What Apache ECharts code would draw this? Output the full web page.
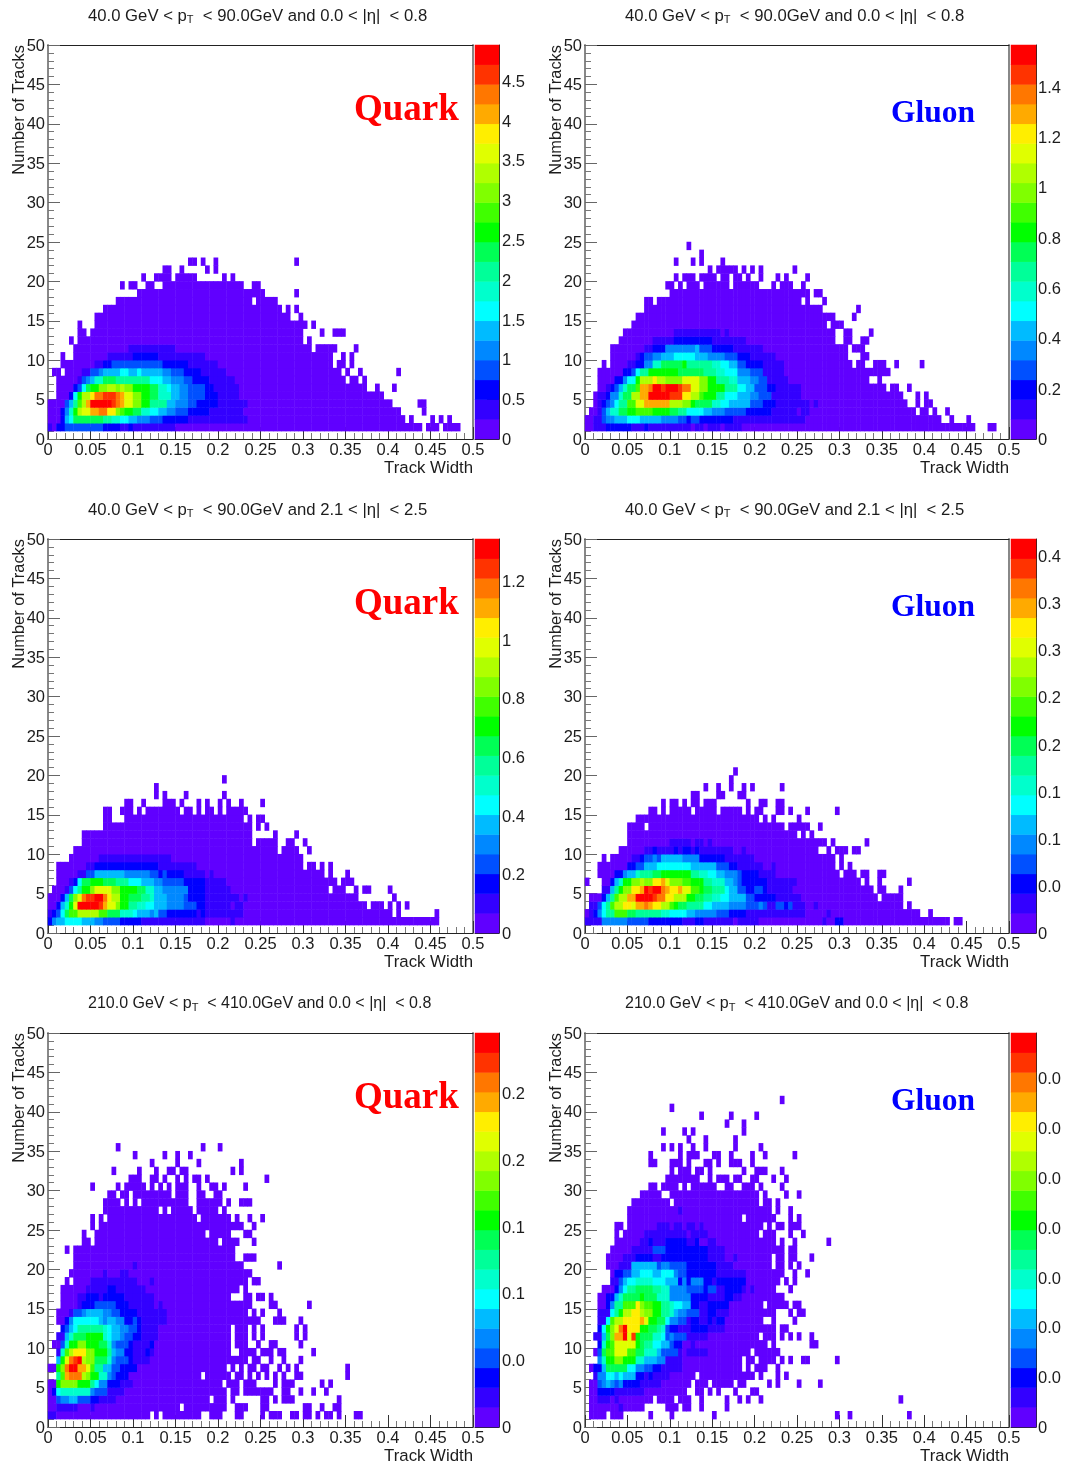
<!DOCTYPE html>
<html><head><meta charset="utf-8"><style>html,body{margin:0;padding:0;background:#fff}#c{width:1070px;height:1467px;filter:blur(.4px)}</style>
<script src="https://cdn.jsdelivr.net/npm/echarts@6/dist/echarts.min.js"></script></head><body><div id="c"></div>
<script>
// Each row list is indexed by tracks bin; tokens "start:level" run until the next token, "." = empty bin.
const quarkLowCentral=["",
"0:1 1:0 2:2 4:3 13:2 17:1 19:2 20:1 30:0 88:. 89:0 92:. 93:0 97:.",
"0:0 3:2 4:5 5:6 6:9 13:8 15:7 17:6 19:5 21:4 24:3 27:2 33:1 47:0 84:. 85:0 86:. 90:0 91:. 92:0 93:. 94:0 95:.",
"0:0 3:2 4:4 5:7 6:10 7:13 8:14 10:16 12:17 14:15 16:12 17:11 18:10 20:9 22:7 24:6 26:5 28:4 30:3 33:2 38:1 46:0 83:. 88:0 89:.",
"0:0 4:3 5:5 6:8 7:11 8:13 9:16 10:19 15:18 16:17 17:16 18:14 20:12 22:10 24:8 28:5 30:4 33:3 35:2 40:1 47:0 81:. 87:0 89:.",
"2:0 5:2 6:6 7:10 8:13 10:15 11:17 13:18 16:17 17:16 18:14 20:12 22:10 24:9 26:7 29:5 31:4 33:3 37:2 40:1 45:0 79:.",
"2:0 6:2 7:3 8:6 9:9 10:10 12:12 14:13 16:12 17:13 18:12 20:10 24:9 26:7 28:6 29:5 31:4 33:3 37:2 39:1 45:0 75:. 77:0 78:. 81:0 82:.",
"2:0 7:1 8:3 9:4 10:5 11:7 13:9 16:8 24:6 27:5 29:4 32:3 34:2 38:1 44:0 70:. 71:0 73:. 74:0 75:.",
"1:0 3:. 4:0 8:1 10:3 12:4 13:5 17:6 19:5 21:6 22:5 27:4 29:3 32:2 36:1 42:0 69:. 70:0 71:. 73:0 74:. 82:0 83:.",
"3:0 11:1 13:2 15:3 27:2 33:1 40:0 67:. 68:0 70:. 71:0 72:.",
"3:0 4:. 6:0 14:1 20:2 26:1 37:0 67:. 69:0 70:. 71:0 72:.",
"6:0 19:1 30:0 62:. 63:0 68:. 72:0 73:.",
"5:0 6:. 7:0 60:. 61:0 62:.",
"7:0 9:. 10:0 60:. 64:0 65:. 67:0 70:.",
"7:0 8:. 11:0 61:. 62:0 63:.",
"11:0 57:. 59:0 60:.",
"13:0 55:. 56:0 57:. 58:0 59:.",
"16:0 48:. 49:0 54:.",
"21:0 51:. 58:0 59:.",
"17:0 18:. 19:0 21:. 23:0 25:. 27:0 46:. 48:0 50:.",
"22:0 23:. 25:0 29:. 30:0 35:. 41:0 42:. 43:0 44:.",
"27:0 29:. 31:0 32:. 37:0 38:. 39:0 40:.",
"33:0 35:. 36:0 37:. 39:0 40:. 58:0 59:."];
const gluonLowCentral=["",
"0:0 2:1 5:2 11:1 14:2 15:1 25:0 26:1 28:0 29:1 32:0 33:1 37:0 92:. 95:0 97:.",
"0:0 2:1 4:3 5:4 7:5 10:6 13:5 18:4 22:3 24:2 25:3 27:2 35:1 52:0 84:. 86:0 87:. 90:0 91:.",
"1:0 3:1 4:3 5:5 6:7 8:9 10:10 12:11 16:10 20:9 22:8 24:6 28:5 30:4 33:3 38:2 44:1 50:0 51:1 53:0 78:. 79:0 81:. 82:0 83:. 85:0 86:.",
"2:0 3:1 4:2 5:3 6:4 7:6 8:8 10:11 12:14 14:16 20:13 23:12 25:10 26:9 30:7 32:6 34:5 39:3 42:2 45:1 53:0 54:1 55:0 76:. 78:0 79:. 80:0 82:.",
"2:0 3:1 5:2 6:4 8:7 9:9 11:13 13:16 15:19 20:18 23:15 25:13 27:11 28:10 31:8 33:6 36:5 39:4 41:3 44:1 51:0 75:. 78:0 79:. 80:0 81:.",
"3:0 5:1 6:2 7:3 8:5 9:7 10:9 12:11 13:16 15:17 16:19 18:18 19:19 22:18 23:17 25:14 27:12 29:10 33:8 36:6 38:5 40:3 43:2 45:1 51:0 71:. 72:0 74:. 76:0 77:.",
"3:0 7:2 9:4 10:6 12:10 13:13 16:15 17:13 19:12 23:14 27:12 29:10 31:8 34:7 36:5 39:4 41:3 43:1 48:0 67:. 69:0 70:.",
"3:0 9:2 11:3 12:6 13:8 15:10 22:9 28:8 31:7 33:6 36:4 39:3 42:1 47:0 72:.",
"4:0 5:. 6:0 10:1 12:2 14:4 16:7 18:9 23:10 24:8 30:7 32:6 34:5 36:3 38:2 42:1 47:0 63:. 64:0 66:. 68:0 71:. 73:0 74:. 79:0 80:.",
"6:0 12:1 13:2 14:3 16:4 18:5 21:6 26:5 29:4 33:3 36:2 39:1 45:0 62:. 65:0 67:.",
"6:0 14:1 16:2 19:4 26:5 27:3 30:2 35:1 42:0 62:. 63:0 66:.",
"8:0 16:1 21:2 30:1 38:0 59:. 61:0 63:. 65:0 67:.",
"9:0 21:1 32:0 33:1 34:0 59:. 61:0 63:. 67:0 68:.",
"11:0 57:. 58:0 61:.",
"12:0 59:. 63:0 64:.",
"14:0 56:. 64:0 65:.",
"14:0 16:. 17:0 51:. 52:0 53:. 56:0 57:.",
"20:0 53:. 54:0 56:.",
"19:0 21:. 22:0 23:. 24:0 27:. 28:0 34:. 35:0 41:. 44:0 45:. 46:0 49:. 51:0 52:.",
"21:0 22:. 23:0 26:. 27:0 31:. 32:0 34:. 35:0 37:. 38:0 39:. 41:0 42:. 45:0 46:. 47:0 48:. 52:0 53:.",
"29:0 30:. 31:0 36:. 37:0 38:. 39:0 40:. 41:0 42:. 49:0 50:.",
"21:0 22:. 25:0 26:. 27:0 28:. 32:0 33:.",
"27:0 28:.",
"24:0 25:."];
const quarkLowForward=["",
"0:2 1:4 2:5 4:6 8:5 11:4 13:3 17:2 22:1 37:0 43:1 44:0 92:.",
"0:1 1:2 2:3 3:6 4:9 5:11 7:13 12:11 14:9 17:7 20:6 21:5 24:4 25:5 26:3 28:2 35:1 36:2 37:1 46:0 81:. 82:0 83:. 91:0 92:.",
"0:0 2:2 3:5 4:7 5:10 6:14 7:19 12:18 13:16 14:14 16:12 17:10 19:8 21:7 23:6 25:5 28:4 32:3 35:2 37:1 43:0 44:1 46:0 75:. 76:0 79:. 80:0 81:. 82:0 83:. 84:0 85:.",
"0:0 3:2 4:5 5:9 6:12 7:14 8:17 9:18 11:19 13:17 14:15 15:13 17:10 19:9 22:8 24:7 25:5 28:4 32:3 33:2 37:1 45:0 46:1 47:0 73:. 81:0 82:.",
"1:0 4:1 5:3 6:6 7:8 8:10 10:12 11:14 15:12 17:10 21:9 23:7 25:5 27:4 33:2 37:1 43:0 66:. 67:0 70:. 72:0 73:. 74:0 76:. 80:0 81:.",
"2:0 5:1 6:2 7:6 8:9 10:10 13:9 16:8 19:6 22:5 25:4 27:3 32:2 37:1 42:0 68:. 69:0 72:.",
"2:0 7:1 9:3 11:5 18:4 24:3 26:2 27:3 28:2 32:1 37:0 38:1 39:0 65:. 66:0 67:. 70:0 71:.",
"2:0 9:1 11:2 26:1 35:0 60:. 61:0 63:. 64:0 65:. 66:0 67:.",
"5:0 12:1 29:0 60:.",
"6:0 54:. 55:0 59:. 61:0 62:.",
"8:0 48:. 49:0 54:. 56:0 58:. 60:0 61:.",
"8:0 48:. 53:0 54:. 58:0 59:.",
"13:0 48:. 49:0 50:. 51:0 52:.",
"13:0 15:. 18:0 46:. 47:0 48:. 49:0 51:.",
"13:0 15:. 17:0 20:. 21:0 22:. 23:0 31:. 32:0 34:. 35:0 36:. 37:0 39:. 40:0 41:. 42:0 47:.",
"18:0 20:. 22:0 23:. 27:0 30:. 31:0 32:. 35:0 36:. 37:0 38:. 40:0 41:. 42:0 43:. 45:0 46:. 50:0 51:.",
"25:0 26:. 27:0 28:. 32:0 33:. 41:0 42:.",
"25:0 26:.",
"41:0 42:."];
const gluonLowForward=["",
"0:1 4:4 10:3 15:2 23:1 26:2 28:1 35:0 36:1 41:0 56:1 57:0 59:2 61:0 86:. 87:0 89:.",
"0:0 1:1 2:2 3:4 4:6 5:8 7:11 10:9 12:8 18:7 20:6 24:5 26:4 31:3 34:2 38:1 52:0 57:1 58:0 79:. 81:0 82:.",
"1:1 3:3 4:6 5:8 6:11 7:13 9:15 11:14 12:16 14:17 15:16 16:15 18:13 20:11 21:10 22:9 24:8 28:6 30:5 34:4 38:3 41:4 42:3 43:1 45:3 47:2 48:3 49:1 52:0 54:1 55:0 75:. 76:0 77:.",
"1:0 4:2 5:5 6:8 7:11 8:13 10:16 12:19 16:18 17:17 19:15 21:13 24:10 26:9 28:8 30:7 32:6 34:5 38:3 40:2 45:1 51:0 69:. 70:0 75:.",
"4:1 6:5 7:8 8:10 9:12 11:15 13:16 14:19 15:18 16:19 18:17 19:16 20:15 22:16 23:14 25:11 27:10 28:9 30:8 33:6 34:5 36:3 38:2 40:3 42:2 43:1 49:0 68:. 69:0 71:. 74:0 75:.",
"0:0 1:. 4:0 6:2 7:5 8:7 9:10 11:12 13:13 14:12 16:15 18:16 19:14 20:12 23:11 25:10 28:8 30:7 33:5 35:4 36:3 37:2 43:1 50:0 65:. 66:0 67:. 69:0 70:. 76:0 77:.",
"3:0 7:2 9:4 10:5 12:7 13:8 16:9 18:10 25:8 27:7 29:6 31:5 33:4 36:3 37:2 41:1 45:0 60:. 61:0 64:. 65:0 67:. 69:0 71:.",
"3:0 10:2 12:3 14:5 17:6 25:5 31:3 34:2 36:1 42:0 44:1 45:0 59:. 60:0 61:. 62:0 63:.",
"4:0 5:. 6:0 11:1 13:2 14:3 16:4 17:3 18:5 23:4 27:2 33:1 40:0 59:. 60:0 61:.",
"8:0 14:1 16:2 17:1 21:2 22:1 23:2 25:1 26:2 27:1 35:0 37:1 38:0 55:. 57:0 58:. 59:0 62:. 63:0 65:.",
"10:0 20:1 25:0 26:1 28:0 29:1 30:0 57:. 58:0 59:. 66:0 67:.",
"10:0 50:. 51:0 52:. 53:0 54:.",
"10:0 14:. 15:0 47:. 48:0 53:. 55:0 56:.",
"12:0 41:. 42:0 43:. 44:0 45:. 50:0 51:.",
"15:0 17:. 18:0 19:. 20:0 25:. 26:0 31:. 32:0 37:. 38:0 39:. 40:0 42:. 45:0 47:. 48:0 49:. 52:0 53:. 59:0 60:.",
"18:0 19:. 20:0 22:. 23:0 24:. 25:0 27:. 28:0 31:. 38:0 39:. 41:0 43:. 45:0 47:.",
"25:0 27:. 31:0 33:. 36:0 38:.",
"28:0 29:. 31:0 32:. 34:0 35:. 37:0 38:. 39:0 40:. 46:0 47:.",
"34:0 35:.",
"35:0 36:."];
const quarkHighCentral=["",
"0:1 2:0 24:. 25:0 26:. 27:0 36:. 38:0 41:. 44:0 46:. 50:0 51:. 52:0 55:. 57:0 59:. 60:0 62:. 63:0 64:. 65:0 67:. 68:0 69:. 72:0 74:.",
"0:0 2:1 7:0 10:1 11:0 31:. 32:0 42:. 44:0 47:. 50:0 52:. 60:0 62:. 64:0 65:. 67:0 69:.",
"0:0 2:3 3:4 5:5 7:3 10:2 12:1 16:0 38:. 39:0 42:. 43:0 44:. 50:0 52:. 53:0 54:. 55:0 58:. 68:0 69:.",
"0:0 1:2 2:6 3:7 10:4 11:3 14:1 18:0 42:. 43:0 45:. 46:0 53:. 55:0 57:. 59:0 60:. 62:0 63:. 65:0 66:.",
"0:0 2:10 3:12 7:10 10:8 11:6 12:4 14:2 17:1 20:0 41:. 42:0 45:. 46:0 49:. 53:0 54:. 55:0 58:. 64:0 65:. 66:0 67:.",
"2:8 3:11 4:16 5:17 8:13 9:12 10:10 12:7 14:4 15:3 16:2 19:0 36:. 37:0 43:. 44:0 46:. 47:0 48:. 49:0 50:. 51:0 52:. 53:0 54:. 55:0 56:. 58:0 60:. 70:0 71:.",
"0:0 2:10 3:12 4:17 5:19 7:16 9:14 10:11 11:8 13:5 15:3 17:2 21:0 42:. 43:0 44:. 45:0 46:. 47:0 49:. 50:0 52:. 54:0 55:. 56:0 57:. 58:0 59:. 70:0 71:.",
"2:5 3:10 4:14 5:17 6:18 7:19 8:13 9:12 11:9 14:7 15:4 16:3 19:2 20:1 24:0 47:. 48:0 50:. 52:0 53:. 55:0 56:. 59:0 60:.",
"2:1 3:7 4:11 5:13 6:15 9:12 11:10 14:8 15:5 16:4 18:2 20:1 23:2 24:1 25:0 43:. 45:0 49:. 50:0 53:. 54:0 56:. 62:0 63:.",
"1:0 3:3 4:7 5:10 7:12 9:10 12:9 14:7 15:4 16:3 19:2 20:1 24:2 25:0 43:. 44:0 47:. 49:0 50:. 52:0 54:. 59:0 60:.",
"2:1 4:5 5:7 6:9 9:10 13:7 14:6 15:5 17:4 18:3 20:2 22:1 26:0 43:. 44:0 47:. 48:0 49:. 50:0 51:. 58:0 59:. 60:0 61:.",
"3:2 4:3 5:5 6:6 7:8 13:7 14:6 15:5 17:4 19:3 21:2 22:1 26:0 43:. 44:0 47:. 48:0 49:. 50:0 51:. 58:0 59:. 60:0 61:.",
"2:0 4:2 5:4 6:6 12:5 13:4 14:5 16:4 18:2 20:3 21:2 22:1 28:0 50:. 53:0 56:. 59:0 60:.",
"2:0 5:1 6:3 8:4 9:5 13:4 15:3 17:2 21:1 28:0 47:. 48:0 49:. 50:0 51:. 54:0 55:.",
"3:0 7:1 8:2 11:3 16:2 19:1 25:0 26:1 27:0 48:. 52:0 54:. 61:0 62:.",
"3:0 7:1 9:2 12:1 13:2 18:1 25:0 43:. 46:0 48:. 49:0 51:. 52:0 53:.",
"3:0 9:1 14:2 16:1 23:0 45:. 46:0 47:.",
"4:0 5:. 6:0 10:1 21:0 24:1 25:0 47:. 48:0 50:.",
"5:0 13:1 14:0 17:1 19:0 48:.",
"6:0 20:1 21:0 46:. 54:0 55:.",
"6:0 44:. 46:0 49:.",
"4:0 5:. 6:0 44:.",
"8:0 10:. 11:0 40:. 41:0 45:. 48:0 49:.",
"8:0 9:. 11:0 37:. 38:0 43:. 46:0 48:.",
"10:0 11:. 12:0 46:. 48:0 49:.",
"10:0 11:. 12:0 13:. 14:0 35:. 36:0 43:. 44:0 45:. 47:0 48:. 50:0 51:.",
"13:0 26:. 27:0 28:. 29:0 34:. 35:0 40:. 41:0 42:.",
"13:0 17:. 18:0 19:. 20:0 21:. 22:0 33:. 35:0 41:. 42:0 43:. 45:0 48:.",
"14:0 16:. 17:0 19:. 20:0 29:. 30:0 33:. 35:0 37:. 39:0 41:.",
"10:0 11:. 16:0 17:. 18:0 23:. 24:0 25:. 26:0 27:. 28:0 29:. 30:0 33:. 35:0 36:. 38:0 40:. 41:0 42:. 46:0 47:.",
"19:0 22:. 24:0 26:. 27:0 28:. 30:0 31:. 32:0 33:. 34:0 36:. 37:0 38:. 51:0 52:.",
"15:0 16:. 21:0 22:. 25:0 26:. 28:0 30:. 31:0 33:. 43:0 44:. 45:0 46:.",
"24:0 25:. 30:0 31:. 35:0 36:. 45:0 46:.",
"20:0 21:. 27:0 28:. 30:0 31:. 33:0 34:.",
"16:0 17:. 36:0 37:. 40:0 41:."];
const gluonHighCentral=["",
"1:0 5:. 6:0 9:. 15:0 16:. 20:0 21:. 30:0 31:. 59:0 60:. 62:0 63:. 76:0 77:.",
"1:0 8:1 9:0 14:. 19:0 22:. 23:0 25:. 27:0 28:. 33:0 34:.",
"1:0 3:1 6:0 7:1 8:0 16:. 17:0 21:. 22:0 25:. 27:0 28:. 33:0 34:. 36:0 37:. 38:0 39:. 41:0 42:. 74:0 75:.",
"1:0 3:2 7:1 14:0 24:. 26:0 28:. 29:0 30:. 31:0 32:. 35:0 36:. 39:0 41:.",
"1:0 3:3 4:4 5:5 6:4 7:3 8:4 9:2 13:1 18:0 25:. 26:0 29:. 30:0 35:. 36:0 38:. 43:0 44:. 45:0 46:. 50:0 51:. 55:0 56:.",
"2:1 3:4 5:6 7:5 8:6 9:5 12:2 14:1 15:2 16:1 20:0 26:. 27:0 40:. 41:0 42:. 45:0 46:. 47:0 48:.",
"1:0 2:2 4:5 5:9 10:6 12:4 14:3 16:2 18:1 23:0 37:. 38:0 39:. 40:0 43:. 45:0 46:.",
"3:4 4:7 5:10 7:12 9:10 12:7 14:5 17:4 19:1 23:0 37:. 38:0 40:. 41:0 45:. 46:0 47:. 48:0 49:. 51:0 53:. 59:0 60:.",
"2:0 3:3 4:9 5:11 7:14 10:11 12:9 14:7 17:5 18:3 22:1 23:0 24:1 29:0 39:. 40:0 46:.",
"3:2 4:7 5:10 6:11 7:14 12:10 13:9 14:8 16:6 18:5 20:3 21:2 23:0 25:1 26:0 43:. 44:0 45:. 53:0 55:.",
"2:1 4:5 5:9 6:12 7:16 9:19 10:14 11:18 12:10 13:9 16:7 18:6 19:3 20:4 21:3 24:1 29:0 41:. 42:0 45:. 46:0 47:. 48:0 49:. 50:0 51:. 53:0 54:.",
"3:2 4:6 5:10 6:12 7:14 8:17 9:19 10:15 13:10 15:9 17:8 18:7 19:3 20:2 22:1 25:2 29:1 33:0 45:. 46:0 48:.",
"3:1 5:6 6:11 7:13 9:15 13:16 14:14 15:10 17:9 19:6 20:4 22:3 24:1 25:2 27:1 29:2 30:1 31:2 33:0 42:. 44:0 45:. 49:0 50:.",
"3:1 6:6 7:8 8:10 9:13 11:15 13:13 14:12 16:10 18:8 20:7 21:5 22:4 24:3 27:1 29:2 31:1 34:0 45:. 48:0 49:. 50:0 52:.",
"3:0 5:2 6:4 7:8 9:11 12:15 13:12 14:11 16:10 18:8 20:7 21:6 23:5 25:2 27:1 29:2 34:0 42:. 43:0 48:. 49:0 51:.",
"3:0 5:2 7:5 8:7 9:9 13:10 14:9 17:7 20:4 25:2 29:1 33:2 35:1 37:0 47:.",
"4:0 7:2 8:4 9:6 10:8 12:9 16:8 18:7 20:4 24:3 28:2 29:3 31:1 33:2 37:1 38:0 39:1 40:0 45:. 48:0 49:.",
"6:1 8:3 9:5 10:6 12:7 16:6 19:5 22:2 23:4 24:2 25:4 28:2 30:1 31:2 38:0 46:. 47:0 48:. 49:0 50:.",
"6:0 7:2 9:3 11:5 13:6 16:5 18:6 21:4 22:3 24:2 31:1 38:0 47:. 49:0 50:. 52:0 53:.",
"5:0 8:1 11:5 17:3 18:4 20:3 24:2 31:1 35:0 44:. 45:0 47:. 48:0 49:. 50:0 51:.",
"5:0 9:1 12:2 16:1 18:2 29:1 33:0 35:1 36:0 44:. 45:0 47:. 48:0 50:. 53:0 54:.",
"6:0 11:1 16:3 19:2 29:1 33:0 47:. 48:0 50:.",
"7:0 13:1 15:2 16:1 19:2 24:1 26:2 27:0 29:1 31:0 45:. 46:0 47:. 49:0 50:. 57:0 58:.",
"7:0 8:. 9:0 14:1 24:0 25:1 29:0 41:. 42:0 45:. 48:0 49:. 51:0 52:.",
"7:0 9:. 10:0 17:1 20:0 21:1 23:0 24:1 26:0 27:1 28:0 42:. 43:0 44:. 45:0 47:. 48:0 51:.",
"10:0 37:. 38:0 45:. 48:0 49:. 50:0 51:.",
"10:0 22:1 23:0 44:. 45:0 46:. 48:0 49:.",
"11:0 20:. 21:0 41:. 42:0 44:. 45:0 46:.",
"13:0 18:. 20:0 41:. 42:0 43:. 47:0 48:. 50:0 51:.",
"15:0 17:. 18:0 22:. 23:0 24:. 25:0 31:. 33:0 35:. 37:0 40:. 41:0 42:. 46:0 47:.",
"19:0 27:. 29:0 30:. 31:0 34:. 35:0 37:. 39:0 41:. 44:0 45:. 47:0 48:.",
"20:0 21:. 22:0 25:. 26:0 28:. 29:0 30:. 37:0 38:. 40:0 43:. 46:0 47:.",
"15:0 17:. 20:0 23:. 24:0 25:. 28:0 30:. 31:0 32:. 34:0 37:. 39:0 40:.",
"15:0 16:. 22:0 23:. 24:0 27:. 30:0 32:. 34:0 35:. 39:0 40:. 42:0 43:. 49:0 50:.",
"18:0 19:. 20:0 21:. 22:0 23:. 25:0 26:. 28:0 29:. 35:0 36:. 41:0 42:.",
"24:0 25:. 28:0 29:. 35:0 36:.",
"18:0 19:. 23:0 24:. 25:0 26:. 37:0 38:.",
"33:0 34:. 37:0 38:.",
"27:0 28:. 34:0 35:. 40:0 41:.",
"20:0 21:.",
"46:0 47:."];
const zMax=[4.95,1.565,1.343,0.418,0.2949,0.0791];
const zTickStep=[0.5,0.2,0.2,0.05,0.05,0.01];
const zLabels=[["0","0.5","1","1.5","2","2.5","3","3.5","4","4.5"],
["0","0.2","0.4","0.6","0.8","1","1.2","1.4"],
["0","0.2","0.4","0.6","0.8","1","1.2"],
["0","0.0","0.1","0.1","0.2","0.2","0.3","0.3","0.4"],
["0","0.0","0.1","0.1","0.2","0.2"],
["0","0.0","0.0","0.0","0.0","0.0","0.0","0.0"]];
const xTickLabels=["0","0.05","0.1","0.15","0.2","0.25","0.3","0.35","0.4","0.45","0.5"];
const yTickLabels=["0","5","10","15","20","25","30","35","40","45","50"];
const titles=["40.0 GeV < p{s|T}  < 90.0GeV and 0.0 < |η|  < 0.8","40.0 GeV < p{s|T}  < 90.0GeV and 0.0 < |η|  < 0.8",
"40.0 GeV < p{s|T}  < 90.0GeV and 2.1 < |η|  < 2.5","40.0 GeV < p{s|T}  < 90.0GeV and 2.1 < |η|  < 2.5",
"210.0 GeV < p{s|T}  < 410.0GeV and 0.0 < |η|  < 0.8","210.0 GeV < p{s|T}  < 410.0GeV and 0.0 < |η|  < 0.8"];
const titleSizes=[16.7,16.7,16.7,16.7,16,16];
const tags=["Quark","Gluon","Quark","Gluon","Quark","Gluon"];
const palette=["#6000ff","#3300ff","#0000ff","#0050ff","#0088ff","#00bbff","#00ffff","#00ffcc","#00ff99","#00ff55","#00ff00","#40ff00","#80ff00","#b0ff00","#e0ff00","#ffee00","#ffaa00","#ff7700","#ff3300","#ff0000"];
const panelRows=[quarkLowCentral,gluonLowCentral,quarkLowForward,gluonLowForward,quarkHighCentral,gluonHighCentral];

const font='"Liberation Sans",Arial,sans-serif', ink='#1c1c1c';
const xBins=Array.from({length:100},(_,i)=>String(i)), yBins=Array.from({length:50},(_,i)=>String(i));
function cells(rows,step){const out=[];rows.forEach((row,j)=>{const t=row.trim()?row.trim().split(/\s+/).map(s=>s.split(':')):[];
  t.forEach((p,k)=>{if(p[1]==='.')return;const a=+p[0],b=k+1<t.length?+t[k+1][0]:a+1;for(let i=a;i<b;i++)out.push([i,j,(+p[1]+.5)*step]);});});return out;}

const opt={animation:false,backgroundColor:'#fff',title:[],grid:[],xAxis:[],yAxis:[],series:[],visualMap:[],graphic:[]};
const lbl={fontFamily:font,fontSize:16.5,color:ink};
const shiftedLabel=pad=>({...lbl,rich:{a:{...lbl,padding:[pad,0,0,0]}}});
panelRows.forEach((rows,p)=>{
  const col=p%2,row=Math.floor(p/2),L=col?585:48,W=col?424:425,T=45+row*494,H=394,CL=col?1011:475,step=zMax[p]/20;
  const gm=opt.grid.length;
  opt.grid.push({left:L,top:T,width:W,height:H,outerBoundsMode:'none'},{left:CL,top:T,width:col?25:24,height:H,outerBoundsMode:'none'});
  const xb=opt.xAxis.length,yb=opt.yAxis.length;
  opt.xAxis.push({type:'value',gridIndex:gm,position:'bottom',min:0,max:.5,interval:.05,splitLine:{show:false},
      axisLine:{show:true,onZero:false,lineStyle:{color:'#222',width:1}},
      axisTick:{show:true,inside:true,length:12,lineStyle:{color:'#333'}},
      minorTick:{show:true,splitNumber:5,length:6,lineStyle:{color:'#777'}},
      axisLabel:{...lbl,margin:3,formatter:(v,i)=>xTickLabels[i]??''},
      name:'Track Width',nameLocation:'end',nameGap:0,nameTextStyle:{...lbl,fontSize:16.8,align:'right',verticalAlign:'top',padding:[21,0,0,0]}},
    {type:'category',gridIndex:gm,position:'top',data:xBins,axisTick:{show:false},axisLabel:{show:false},splitLine:{show:false},axisLine:{show:true,onZero:false,lineStyle:{color:'#222',width:1}}},
    {type:'category',gridIndex:gm+1,position:'bottom',data:[''],axisTick:{show:false},axisLabel:{show:false},axisLine:{show:true,onZero:false,lineStyle:{color:'#222',width:1}}});
  opt.yAxis.push({type:'value',gridIndex:gm,position:'left',min:0,max:50,interval:5,splitLine:{show:false},
      axisLine:{show:true,onZero:false,lineStyle:{color:'#888',width:2}},
      axisTick:{show:true,inside:true,length:12,lineStyle:{color:'#666'}},
      minorTick:{show:true,splitNumber:5,length:6,lineStyle:{color:'#777'}},
      axisLabel:{...shiftedLabel(2),margin:3,formatter:(v,i)=>yTickLabels[i]!=null?'{a|'+yTickLabels[i]+'}':''}},
    {type:'category',gridIndex:gm,position:'right',data:yBins,axisTick:{show:false},axisLabel:{show:false},splitLine:{show:false},axisLine:{show:true,onZero:false,lineStyle:{color:'#888',width:2}}},
    {type:'value',gridIndex:gm+1,position:'right',min:0,max:zMax[p],interval:zTickStep[p],splitLine:{show:false},
      axisLine:{show:true,onZero:false,lineStyle:{color:'#222',width:1}},
      axisTick:{show:true,inside:true,length:12,lineStyle:{color:'#222'},customValues:zLabels[p].map((_,i)=>i*zTickStep[p])},
      axisLabel:{...shiftedLabel(3),margin:col?2:3,customValues:zLabels[p].map((_,i)=>i*zTickStep[p]),formatter:(v)=>{const s=zLabels[p][Math.round(v/zTickStep[p])];return s!=null?'{a|'+s+'}':'';}}},
    {type:'category',gridIndex:gm+1,position:'left',data:palette.map((_,k)=>String(k)),show:false});
  const sm=opt.series.length;
  opt.series.push({type:'heatmap',xAxisIndex:xb+1,yAxisIndex:yb+1,data:cells(rows,step),progressive:0,silent:true},
    {type:'heatmap',xAxisIndex:xb+2,yAxisIndex:yb+3,data:palette.map((_,k)=>[0,k,(k+.5)*step]),progressive:0,silent:true});
  opt.visualMap.push({type:'piecewise',show:false,dimension:2,seriesIndex:[sm,sm+1],
    pieces:palette.map((c,k)=>({gte:k*step,lt:(k+1)*step,color:c}))});
  opt.title.push({text:titles[p],left:col?625:88,top:T-38,padding:0,textStyle:{fontFamily:font,fontSize:titleSizes[p],fontWeight:'normal',color:ink,lineHeight:18,
      rich:{s:{fontFamily:font,fontSize:11,color:ink,verticalAlign:'bottom',lineHeight:18,padding:[13,0,0,0]}}}},
    {text:tags[p],left:col?891:354,top:col?T+53:T+47,padding:0,textStyle:{fontFamily:'"Liberation Serif",serif',fontWeight:'bold',fontSize:col?31.5:37,color:col?'#0000ff':'#ff0000'}});
  opt.graphic.push({type:'text',x:col?556:19,y:T,rotation:Math.PI/2,style:{text:'Number of Tracks',align:'right',verticalAlign:'middle',fontFamily:font,fontSize:16.4,fill:ink}});
});
const chart=echarts.init(document.getElementById('c'),null,{renderer:'canvas',width:1070,height:1467});
chart.setOption(opt);
</script></body></html>
